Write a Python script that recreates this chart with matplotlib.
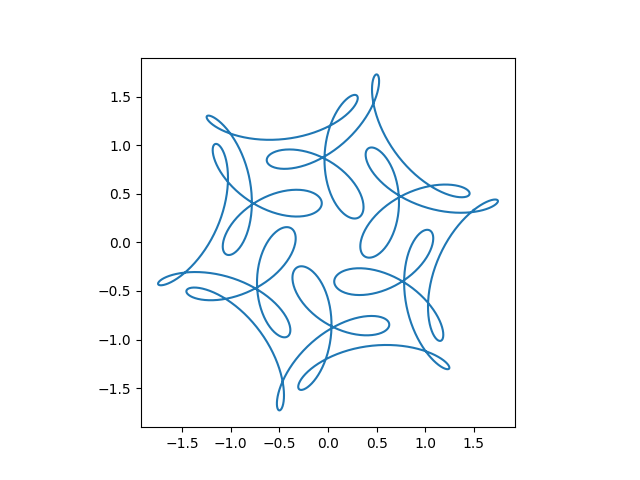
import numpy as np
import matplotlib
matplotlib.use("Agg")
import matplotlib.pyplot as plt

# Farris-type curve: z(t) = sum(amp * exp(i*phase) * exp(i*freq*t))
FREQS = [1, 7, -17]
AMPS = [1.0, 1.0 / 2, 1.0 / 3]
PHASES = [0.0, 0.0, np.pi / 2]  # the third term is multiplied by i
N_SAMPLES = 3000


def curve_points(n_samples):
    t = np.linspace(0, 2 * np.pi, n_samples)
    z = np.zeros_like(t, dtype=complex)
    for freq, amp, phase in zip(FREQS, AMPS, PHASES):
        z += amp * np.exp(1j * phase) * np.exp(1j * freq * t)
    return z.real, z.imag


x, y = curve_points(N_SAMPLES)

fig, ax = plt.subplots(figsize=(6.4, 4.8), dpi=100)
ax.plot(x, y, color="#1f77b4", linewidth=1.5)
ax.set_aspect("equal")

fig.savefig("out.png", dpi=100)
plt.close(fig)
